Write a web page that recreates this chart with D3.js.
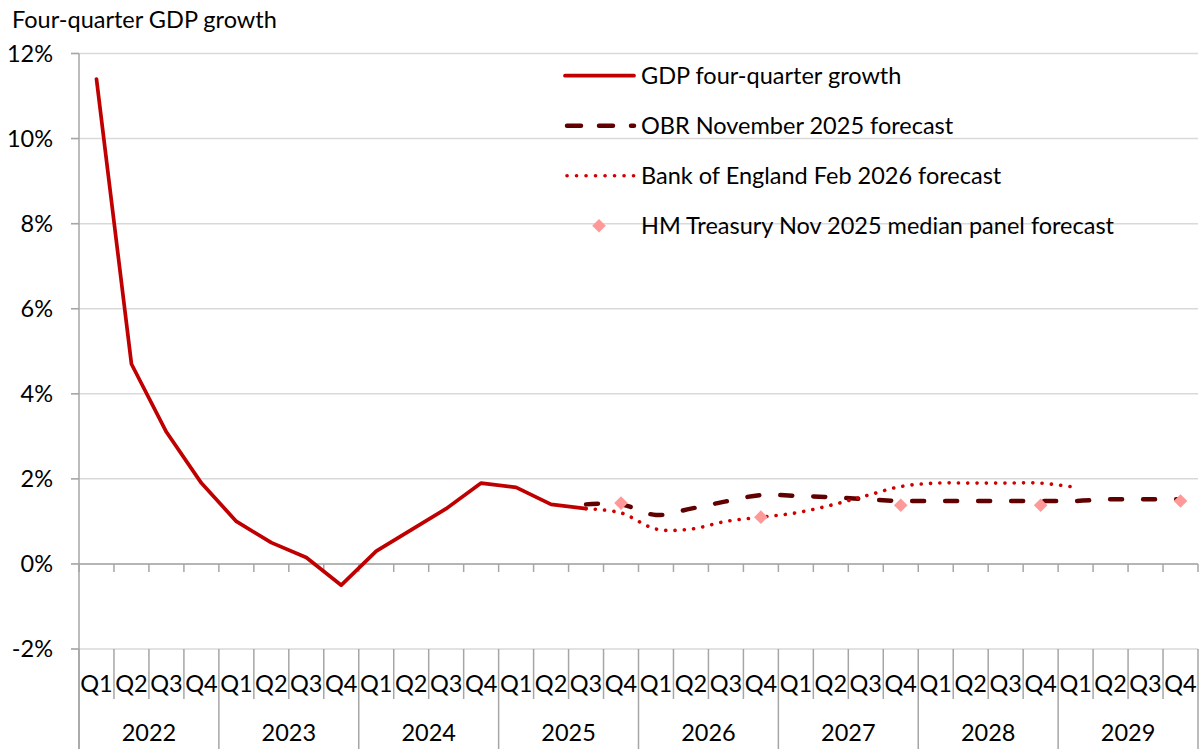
<!DOCTYPE html>
<html>
<head>
<meta charset="utf-8">
<script src="https://cdn.jsdelivr.net/npm/d3@7"></script>
<style>
  html, body { margin: 0; padding: 0; background: #fff; }
  svg { display: block; font-family: Lato, "Noto Sans", sans-serif; }
</style>
</head>
<body>
<svg id="chart" width="1203" height="749"></svg>
<script>
// Quarterly categories, 2022 Q1 to 2029 Q4
const years = ["2022", "2023", "2024", "2025", "2026", "2027", "2028", "2029"];
const quarters = ["Q1", "Q2", "Q3", "Q4"];

// Four-quarter GDP growth, % (outturn)
const gdp = [11.4, 4.7, 3.1, 1.9, 1.0, 0.5, 0.15, -0.5, 0.3, 0.8, 1.3, 1.9, 1.8, 1.4, 1.3,
  null, null, null, null, null, null, null, null, null, null, null, null, null, null, null, null, null];

// OBR November 2025 forecast, %
const obr = [null, null, null, null, null, null, null, null, null, null, null, null, null, null,
  1.4, 1.4, 1.15, 1.3, 1.47, 1.62, 1.6, 1.57, 1.52, 1.48, 1.48, 1.48, 1.48, 1.48, 1.48, 1.52, 1.52, 1.52];

// Bank of England February 2026 forecast, %
const boe = [null, null, null, null, null, null, null, null, null, null, null, null, null, null,
  1.3, 1.2, 0.82, 0.82, 1.0, 1.1, 1.2, 1.38, 1.6, 1.82, 1.9, 1.9, 1.9, 1.9, 1.8, null, null, null];

// HM Treasury November 2025 median panel forecast, %
const hmt = [null, null, null, null, null, null, null, null, null, null, null, null, null, null,
  null, 1.43, null, null, null, 1.1, null, null, null, 1.38, null, null, null, 1.38, null, null, null, 1.48];

const yTicks = [-2, 0, 2, 4, 6, 8, 10, 12];

const seriesNames = [
  "GDP four-quarter growth",
  "OBR November 2025 forecast",
  "Bank of England Feb 2026 forecast",
  "HM Treasury Nov 2025 median panel forecast"
];

const categories = [];
years.forEach(yr => quarters.forEach(q => categories.push({ year: yr, q })));

const svg = d3.select("#chart");
const plotL = 79, plotR = 1198, plotT = 53.5, plotB = 649;
const fs = 23.5;

const x = d3.scaleBand().domain(d3.range(categories.length)).range([plotL, plotR]).padding(0);
const bw = x.bandwidth();
const cx = i => x(i) + bw / 2;
const y = d3.scaleLinear().domain([-2, 12]).range([plotB, plotT]);

const gridColor = "#d9d9d9";
const axisColor = "#a6a6a6";

// horizontal gridlines and y ticks
svg.append("g").selectAll("line").data(yTicks).join("line")
  .attr("x1", plotL - 8).attr("x2", plotR)
  .attr("y1", d => y(d)).attr("y2", d => y(d))
  .attr("stroke", gridColor).attr("stroke-width", 1.5);

svg.append("g").selectAll("line").data(yTicks).join("line")
  .attr("x1", plotL - 8).attr("x2", plotL)
  .attr("y1", d => y(d)).attr("y2", d => y(d))
  .attr("stroke", axisColor).attr("stroke-width", 1.5);

// y axis labels (plain hyphen for negatives)
svg.append("g").selectAll("text").data(yTicks).join("text")
  .attr("x", 53).attr("y", d => y(d)).attr("dy", "0.36em")
  .attr("text-anchor", "end").attr("font-size", fs).attr("fill", "#000")
  .text(d => String(d) + "%");

// value axis line, running down through the category label area
svg.append("line").attr("x1", plotL).attr("x2", plotL).attr("y1", plotT).attr("y2", 749)
  .attr("stroke", axisColor).attr("stroke-width", 1.5);

// zero line with tick marks at each quarter boundary
svg.append("line").attr("x1", plotL).attr("x2", plotR).attr("y1", y(0)).attr("y2", y(0))
  .attr("stroke", axisColor).attr("stroke-width", 1.5);
const bounds = d3.range(categories.length + 1);
const bx = i => i === categories.length ? plotR : x(i);
svg.append("g").selectAll("line").data(bounds).join("line")
  .attr("x1", bx).attr("x2", bx)
  .attr("y1", y(0)).attr("y2", y(0) + 8)
  .attr("stroke", axisColor).attr("stroke-width", 1.5);

// category separators below the plot: quarters short, years full height
svg.append("g").selectAll("line").data(bounds).join("line")
  .attr("x1", bx).attr("x2", bx)
  .attr("y1", plotB).attr("y2", i => (i % 4 === 0) ? 749 : 699)
  .attr("stroke", axisColor).attr("stroke-width", 1.5);

// quarter labels
svg.append("g").selectAll("text").data(categories).join("text")
  .attr("x", (d, i) => cx(i)).attr("y", 684).attr("dy", "0.36em")
  .attr("text-anchor", "middle").attr("font-size", fs).attr("fill", "#000")
  .text(d => d.q);

// year labels
svg.append("g").selectAll("text").data(years).join("text")
  .attr("x", (d, i) => (x(i * 4) + bx(i * 4 + 4)) / 2).attr("y", 733).attr("dy", "0.36em")
  .attr("text-anchor", "middle").attr("font-size", fs).attr("fill", "#000")
  .text(d => d);

// title
svg.append("text").attr("x", 12).attr("y", 28)
  .attr("font-size", fs).attr("fill", "#000")
  .text("Four-quarter GDP growth");

const pts = arr => arr.map((v, i) => ({ i, v })).filter(d => d.v !== null);

const straight = d3.line().x(d => cx(d.i)).y(d => y(d.v));
const smooth = d3.line().x(d => cx(d.i)).y(d => y(d.v)).curve(d3.curveCatmullRom.alpha(0.5));

// outturn
svg.append("path").attr("d", straight(pts(gdp)))
  .attr("fill", "none").attr("stroke", "#c00000").attr("stroke-width", 3.7)
  .attr("stroke-linejoin", "round").attr("stroke-linecap", "round");

// OBR forecast
svg.append("path").attr("d", smooth(pts(obr)))
  .attr("fill", "none").attr("stroke", "#600000").attr("stroke-width", 4.5)
  .attr("stroke-dasharray", "12,21").attr("stroke-linecap", "round");

// Bank of England forecast
svg.append("path").attr("d", smooth(pts(boe)))
  .attr("fill", "none").attr("stroke", "#d00000").attr("stroke-width", 3.6)
  .attr("stroke-dasharray", "0.1,9.2").attr("stroke-linecap", "round");

// HM Treasury diamonds
const diamond = d3.symbol().type(d3.symbolDiamond2).size(118);
svg.append("g").selectAll("path").data(pts(hmt)).join("path")
  .attr("transform", d => `translate(${cx(d.i)},${y(d.v)})`)
  .attr("d", diamond).attr("fill", "#ff9999");

// legend
const lg = svg.append("g");
const lx1 = 565, lx2 = 634, ltx = 641;
const ly = [75.7, 125.7, 175.7, 225.7];
lg.append("line").attr("x1", lx1).attr("x2", lx2).attr("y1", ly[0]).attr("y2", ly[0])
  .attr("stroke", "#c00000").attr("stroke-width", 3.7).attr("stroke-linecap", "round");
lg.append("line").attr("x1", lx1 + 2).attr("x2", lx2).attr("y1", ly[1]).attr("y2", ly[1])
  .attr("stroke", "#600000").attr("stroke-width", 4.5)
  .attr("stroke-dasharray", "14,18").attr("stroke-linecap", "round");
lg.append("line").attr("x1", lx1 + 2).attr("x2", lx2).attr("y1", ly[2]).attr("y2", ly[2])
  .attr("stroke", "#d00000").attr("stroke-width", 3.6)
  .attr("stroke-dasharray", "0.1,9.4").attr("stroke-linecap", "round");
lg.append("path").attr("transform", `translate(599,${ly[3]})`)
  .attr("d", diamond).attr("fill", "#ff9999");
lg.selectAll("text").data(seriesNames).join("text")
  .attr("x", ltx).attr("y", (d, i) => ly[i]).attr("dy", "0.36em")
  .attr("font-size", fs).attr("fill", "#000")
  .text(d => d);
</script>
</body>
</html>
